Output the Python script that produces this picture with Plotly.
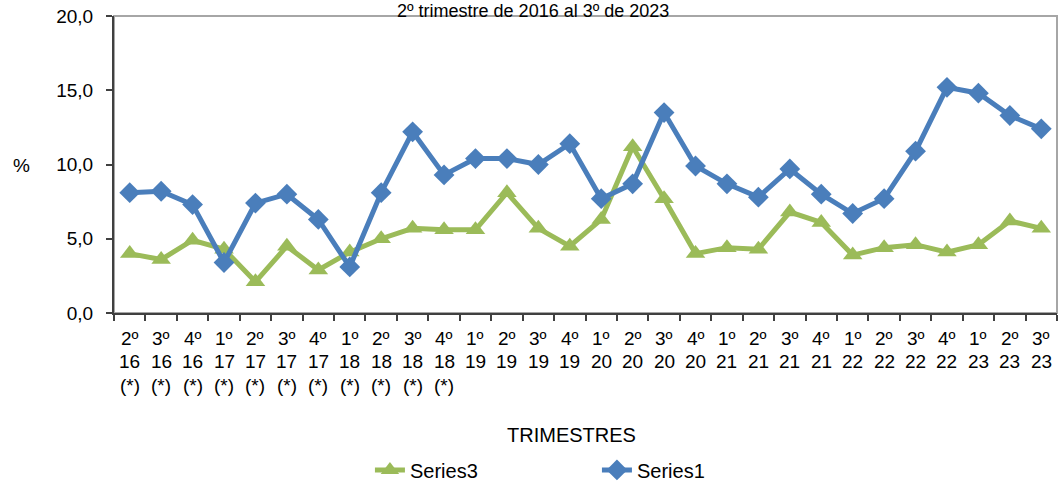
import plotly.graph_objects as go

quarters = ["2º","3º","4º","1º","2º","3º","4º","1º","2º","3º","4º","1º","2º","3º","4º",
            "1º","2º","3º","4º","1º","2º","3º","4º","1º","2º","3º","4º","1º","2º","3º"]
years = ["16","16","16","17","17","17","17","18","18","18","18","19","19","19","19",
         "20","20","20","20","21","21","21","21","22","22","22","22","23","23","23"]
notes = ["(*)"] * 11 + [""] * 19

series1 = [8.1, 8.2, 7.3, 3.4, 7.4, 8.0, 6.3, 3.1, 8.1, 12.2, 9.3, 10.4, 10.4, 10.0, 11.4,
           7.7, 8.7, 13.5, 9.9, 8.7, 7.8, 9.7, 8.0, 6.7, 7.7, 10.9, 15.2, 14.8, 13.3, 12.4]
series3 = [4.0, 3.6, 4.9, 4.3, 2.1, 4.5, 2.9, 4.1, 5.0, 5.7, 5.6, 5.6, 8.1, 5.7, 4.5,
           6.3, 11.2, 7.7, 4.0, 4.4, 4.3, 6.8, 6.1, 3.9, 4.4, 4.6, 4.1, 4.6, 6.2, 5.7]

title_text = "2º trimestre de 2016 al 3º de 2023"
x_title = "TRIMESTRES"
y_title = "%"

cats = [f"{q} {y} {n}".strip() + f"#{i}" for i, (q, y, n) in enumerate(zip(quarters, years, notes))]

FONT = "Liberation Sans, Arial, sans-serif"
GREEN = "#9bbb59"
BLUE = "#4a7ebb"
W, H = 1060, 483
L, R, T, B = 114, 3, 16, 170
PW, PH = W - L - R, H - T - B

fig = go.Figure()
fig.add_trace(go.Scatter(x=cats, y=series3, name="Series3", mode="lines+markers",
                         line=dict(color=GREEN, width=5),
                         marker=dict(symbol="triangle-up", size=17, color=GREEN)))
fig.add_trace(go.Scatter(x=cats, y=series1, name="Series1", mode="lines+markers",
                         line=dict(color=BLUE, width=5),
                         marker=dict(symbol="diamond", size=16, color=BLUE)))

annotations = []
for i, c in enumerate(cats):
    for row, txt in enumerate([quarters[i], years[i], notes[i]]):
        if not txt:
            continue
        annotations.append(dict(x=c, xref="x", y=0, yref="paper", yanchor="middle",
                                xanchor="center", yshift=-(25 + 23.5 * row), text=txt,
                                showarrow=False, font=dict(family=FONT, size=19, color="#000")))

annotations.append(dict(x=(21 - L) / PW, xref="paper", y=(H - B - 166) / PH, yref="paper",
                        xanchor="center", yanchor="middle", text=y_title, showarrow=False,
                        font=dict(family=FONT, size=19, color="#000")))
annotations.append(dict(x=(533 - L) / PW, xref="paper", y=1, yref="paper", xanchor="center",
                        yanchor="top", yshift=T + 1, text=title_text, showarrow=False,
                        font=dict(family=FONT, size=18, color="#000")))
annotations.append(dict(x=(571 - L) / PW, xref="paper", y=0, yref="paper", xanchor="center",
                        yanchor="middle", yshift=-(435 - (H - B)), text=x_title, showarrow=False,
                        font=dict(family=FONT, size=20, color="#000")))

fig.update_layout(
    width=W, height=H,
    margin=dict(l=L, r=R, t=T, b=B),
    paper_bgcolor="white", plot_bgcolor="white",
    font=dict(family=FONT, size=19, color="#000"),
    separators=",.",
    showlegend=True,
    legend=dict(orientation="h", xref="container", yref="container",
                x=0.349, xanchor="left", y=0.027, yanchor="middle",
                entrywidth=182, entrywidthmode="pixels",
                font=dict(family=FONT, size=20, color="#000")),
    annotations=annotations,
)

fig.add_shape(type="rect", xref="paper", yref="paper", x0=0, x1=1, y0=0, y1=1,
              line=dict(color="#a6a6a6", width=2), layer="below")

fig.update_xaxes(type="category", range=[-0.5, len(cats) - 0.5], showgrid=False,
                 showticklabels=False, tickson="boundaries", ticks="outside", ticklen=6,
                 tickcolor="#404040", tickwidth=1.5,
                 showline=True, linecolor="#404040", linewidth=2, zeroline=False)
fig.update_yaxes(range=[0, 20], dtick=5, tick0=0, tickformat=".1f", showgrid=False,
                 ticks="outside", ticklen=6, tickcolor="#404040", tickwidth=1.5,
                 showline=True, linecolor="#404040", linewidth=2, zeroline=False,
                 tickfont=dict(family=FONT, size=19, color="#000"), ticklabelstandoff=9)

fig.write_html("out.html", config={"displayModeBar": False},
               post_script="document.body.style.margin='0';")
